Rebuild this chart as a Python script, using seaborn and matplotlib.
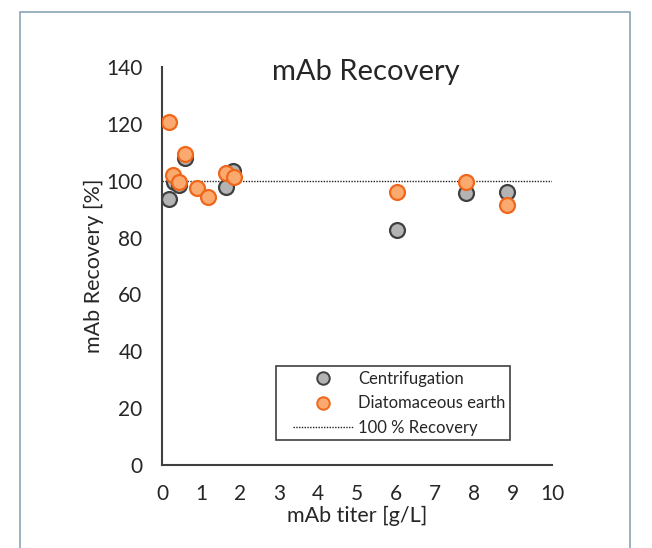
import numpy as np
import matplotlib
matplotlib.use("Agg")
import matplotlib.pyplot as plt
import seaborn as sns
import pandas as pd
from matplotlib.lines import Line2D
from matplotlib.patches import Rectangle

# --- Data ---
centri_titer = [0.18, 0.30, 0.44, 0.59, 1.64, 1.83, 6.02, 7.79, 8.84]
centri_recovery = [93.4, 99.5, 98.5, 107.9, 97.7, 103.5, 82.7, 95.6, 96.2]

diato_titer = [0.18, 0.29, 0.44, 0.59, 0.90, 1.19, 1.64, 1.85, 6.02, 7.79, 8.84]
diato_recovery = [120.6, 102.0, 99.4, 109.4, 97.3, 94.4, 102.8, 101.2, 95.9, 99.7, 91.3]

method_labels = ["Centrifugation", "Diatomaceous earth"]
ref_level = 100
ref_label = "100 % Recovery"

x_ticks = list(range(0, 11))
y_ticks = list(range(0, 141, 20))

# --- Styling ---
sns.set_style("white")
plt.rcParams['font.family'] = ['Lato', 'DejaVu Sans']
plt.rcParams['text.color'] = '#262626'

GRAY_FILL, GRAY_EDGE = '#b3b3b3', '#404040'
ORANGE_FILL, ORANGE_EDGE = '#fbaa6f', '#f0661a'
AXIS_COLOR = '#404040'

df = pd.concat([
    pd.DataFrame({'titer': centri_titer, 'recovery': centri_recovery, 'method': method_labels[0]}),
    pd.DataFrame({'titer': diato_titer, 'recovery': diato_recovery, 'method': method_labels[1]}),
], ignore_index=True)

fig = plt.figure(figsize=(6.52, 5.48), dpi=100)
ax = fig.add_axes([0.2485, 0.1515, 0.5981, 0.7262])

# outer frame like the source figure
fig.patches.append(Rectangle((20 / 652, -0.05), 610 / 652, 1.05 - 12 / 548,
                             transform=fig.transFigure, fill=False,
                             edgecolor='#8aa4b6', linewidth=1.2))

# reference line first so points sit on top
ax.plot([x_ticks[0], x_ticks[-1]], [ref_level, ref_level], linestyle=(0, (1, 1)),
        color='#202020', linewidth=1.0, zorder=1)

for label, fill, edge in [(method_labels[0], GRAY_FILL, GRAY_EDGE),
                          (method_labels[1], ORANGE_FILL, ORANGE_EDGE)]:
    sns.scatterplot(data=df[df['method'] == label], x='titer', y='recovery',
                    color=fill, edgecolor=edge, linewidth=1.6, s=115,
                    ax=ax, zorder=3, legend=False)

ax.set_xlim(x_ticks[0], x_ticks[-1])
ax.set_ylim(y_ticks[0], y_ticks[-1])
ax.set_xticks(x_ticks)
ax.set_yticks(y_ticks)
ax.tick_params(direction='in', length=5, width=1.3, color=AXIS_COLOR,
               labelsize=15, labelcolor='#262626')
ax.tick_params(axis='x', pad=14)
ax.tick_params(axis='y', pad=14)

for side in ['top', 'right']:
    ax.spines[side].set_visible(False)
for side in ['left', 'bottom']:
    ax.spines[side].set_color(AXIS_COLOR)
    ax.spines[side].set_linewidth(1.5)

ax.set_xlabel('mAb titer [g/L]', fontsize=15.5, labelpad=1)
ax.set_ylabel('mAb Recovery [%]', fontsize=15.5, labelpad=1.5)
ax.text(0.523, 0.987, 'mAb Recovery', transform=ax.transAxes, ha='center',
        va='center', fontsize=21)

# legend frame drawn separately so the inner padding can match the source
ax.add_patch(Rectangle((0.2923, 0.0628), 0.60, 0.186, transform=ax.transAxes,
                       fill=True, facecolor='white', edgecolor='#404040',
                       linewidth=1.2, zorder=4, clip_on=False))

handles = [
    Line2D([], [], marker='o', linestyle='none', markersize=9,
           markerfacecolor=GRAY_FILL, markeredgecolor=GRAY_EDGE, markeredgewidth=1.4),
    Line2D([], [], marker='o', linestyle='none', markersize=9,
           markerfacecolor=ORANGE_FILL, markeredgecolor=ORANGE_EDGE, markeredgewidth=1.4),
    Line2D([], [], linestyle=(0, (1, 1)), color='#202020', linewidth=1.0),
]
leg = ax.legend(handles, method_labels + [ref_label], loc='upper left',
                bbox_to_anchor=(0.336, 0.236), borderaxespad=0, borderpad=0,
                frameon=False, fontsize=12, handlelength=3.65,
                handletextpad=0.25, labelspacing=0.5)
leg.set_zorder(5)

fig.savefig('out.png', dpi=100)
